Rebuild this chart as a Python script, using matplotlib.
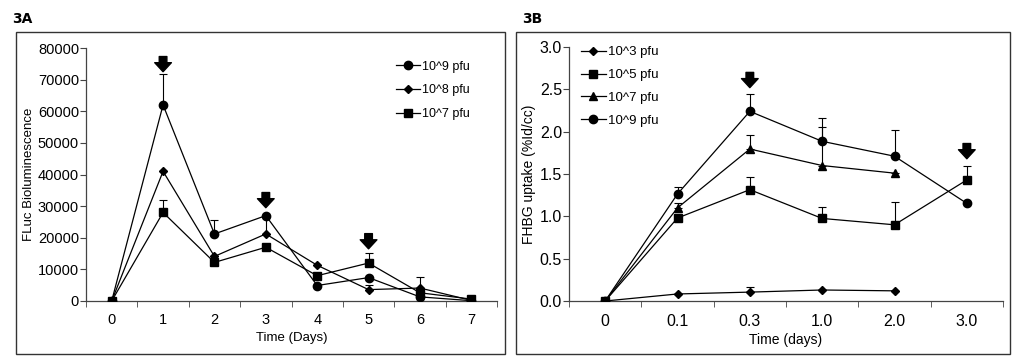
import matplotlib
matplotlib.use("Agg")
import matplotlib.pyplot as plt
from matplotlib.patches import Rectangle
import numpy as np

plt.rcParams['font.family'] = 'Liberation Sans'

# ---- panel 3A: FLuc bioluminescence
days_a = ['0', '1', '2', '3', '4', '5', '6', '7']
a_labels = ['10^9 pfu', '10^8 pfu', '10^7 pfu']
a_markers = ['o', 'D', 's']
a_msize = [6, 4, 6]
a_vals = [
    [0, 62000, 21200, 27000, 4900, 7400, 1300, 100],
    [0, 41000, 14100, 21200, 11300, 3600, 4100, 200],
    [0, 28000, 12200, 17000, 8000, 12000, 2600, 600],
]
a_err = [
    [0, 9800, 4500, 0, 0, 0, 0, 0],
    [0, 0, 0, 5500, 0, 1600, 3600, 0],
    [0, 4000, 0, 0, 0, 3200, 0, 0],
]
a_arrows_x = [1, 3, 5]
a_arrows_y = [72500, 29500, 16500]

# ---- panel 3B: FHBG uptake
days_b = ['0', '0.1', '0.3', '1.0', '2.0', '3.0']
b_labels = ['10^3 pfu', '10^5 pfu', '10^7 pfu', '10^9 pfu']
b_markers = ['D', 's', '^', 'o']
b_msize = [4, 6, 6, 6]
b_vals = [
    [0, 0.083, 0.105, 0.13, 0.12, np.nan],
    [0, 0.98, 1.315, 0.975, 0.90, 1.43],
    [0, 1.10, 1.795, 1.60, 1.51, np.nan],
    [0, 1.264, 2.24, 1.886, 1.71, 1.153],
]
b_err = [
    [0, 0, 0.06, 0, 0, 0],
    [0, 0, 0.145, 0.13, 0.265, 0.17],
    [0, 0.06, 0.165, 0.455, 0, 0],
    [0, 0.08, 0.20, 0.27, 0.31, 0],
]
b_arrows_x = [2, 5]
b_arrows_y = [2.52, 1.68]

W, H = 1028, 364
fig = plt.figure(figsize=(W / 100, H / 100), dpi=100)

# outer frames around each panel
for x0, x1 in [(16, 505), (516, 1010)]:
    fig.patches.append(Rectangle((x0 / W, 1 - 354 / H), (x1 - x0) / W, (354 - 32) / H,
                                 transform=fig.transFigure, fill=False,
                                 edgecolor='#333333', linewidth=1.0))
fig.text(12 / W, 1 - 19 / H, '3A', family='DejaVu Sans', weight='bold', fontsize=10, va='center')
fig.text(522 / W, 1 - 19 / H, '3B', family='DejaVu Sans', weight='bold', fontsize=10, va='center')

axA = fig.add_axes([86 / W, 1 - 301 / H, (497 - 86) / W, (301 - 48) / H])
axB = fig.add_axes([569 / W, 1 - 301 / H, (1003 - 569) / W, (301 - 47) / H])


def style(ax, ncat, fs):
    for s in ['top', 'right']:
        ax.spines[s].set_visible(False)
    for s in ['left', 'bottom']:
        ax.spines[s].set_color('#444444')
        ax.spines[s].set_linewidth(0.9)
    ax.set_xlim(-0.5, ncat - 0.5)
    ax.set_xticks(np.arange(ncat))
    ax.set_xticks(np.arange(ncat + 1) - 0.5, minor=True)
    ax.tick_params(axis='x', which='major', length=0, pad=9, labelsize=fs)
    ax.tick_params(axis='x', which='minor', length=4, direction='out', color='#444444')
    ax.tick_params(axis='y', length=4, direction='out', color='#444444', labelsize=fs, pad=1)


def draw(ax, labels, markers, msize, vals, errs):
    x = np.arange(len(vals[0]))
    for lab, m, ms, v, e in zip(labels, markers, msize, vals, errs):
        v = np.array(v, dtype=float)
        e = np.array(e, dtype=float)
        up = np.where(e > 0, e, np.nan)
        ax.errorbar(x, v, yerr=[np.zeros_like(up), up], fmt='none', ecolor='black',
                    elinewidth=0.8, capsize=3, capthick=0.8, zorder=2)
        ax.plot(x, v, color='black', linewidth=0.9, marker=m, markersize=ms,
                markerfacecolor='black', markeredgecolor='black', label=lab, zorder=3)


def arrows(ax, xs, ys, h):
    for x, y in zip(xs, ys):
        ax.annotate('', xy=(x, y), xytext=(x, y + h),
                    arrowprops=dict(arrowstyle='simple,head_width=1.2,head_length=0.65,tail_width=0.55',
                                    color='black', shrinkA=0, shrinkB=0))


# --- panel A
style(axA, len(days_a), 10.5)
draw(axA, a_labels, a_markers, a_msize, a_vals, a_err)
axA.set_ylim(0, 80000)
axA.set_yticks(np.arange(0, 80001, 10000))
axA.set_xticklabels(days_a)
axA.set_xlabel('Time (Days)', fontsize=9.5, labelpad=3)
axA.set_ylabel('FLuc Bioluminescence', fontsize=9.5, labelpad=2)
arrows(axA, a_arrows_x, a_arrows_y, 4800)
axA.legend(loc='upper right', bbox_to_anchor=(0.96, 0.995), frameon=False,
           prop={'size': 9}, handlelength=1.9,
           handletextpad=0.15, labelspacing=0.95)

# --- panel B
style(axB, len(days_b), 11.5)
draw(axB, b_labels, b_markers, b_msize, b_vals, b_err)
axB.set_ylim(0, 3.0)
axB.set_yticks(np.arange(0, 3.01, 0.5))
axB.set_yticklabels([f'{t:.1f}' for t in np.arange(0, 3.01, 0.5)])
axB.set_xticklabels(days_b)
axB.set_xlabel('Time (days)', fontsize=10, labelpad=3)
axB.set_ylabel('FHBG uptake (%Id/cc)', fontsize=10, labelpad=3)
arrows(axB, b_arrows_x, b_arrows_y, 0.18)
axB.legend(loc='upper left', bbox_to_anchor=(0.0, 1.05), frameon=False,
           prop={'size': 9.5}, handlelength=1.9,
           handletextpad=0.15, labelspacing=0.8)

fig.savefig('out.png', dpi=100)
